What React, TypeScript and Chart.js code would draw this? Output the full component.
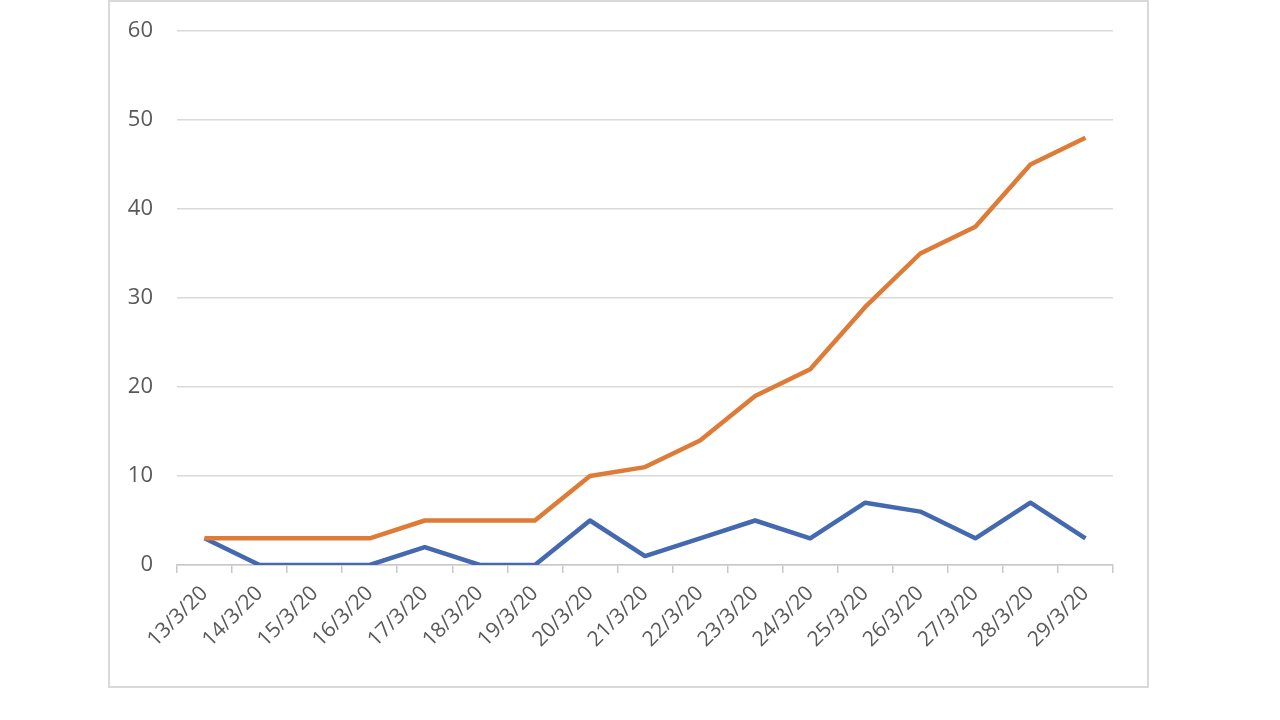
import React, { useEffect, useRef } from "react";
import { Chart, registerables } from "chart.js";

Chart.register(...registerables);

const categories = [
  "13/3/20", "14/3/20", "15/3/20", "16/3/20", "17/3/20", "18/3/20", "19/3/20",
  "20/3/20", "21/3/20", "22/3/20", "23/3/20", "24/3/20", "25/3/20", "26/3/20",
  "27/3/20", "28/3/20", "29/3/20",
];
const orangeSeries = [3, 3, 3, 3, 5, 5, 5, 10, 11, 14, 19, 22, 29, 35, 38, 45, 48];
const blueSeries = [3, 0, 0, 0, 2, 0, 0, 5, 1, 3, 5, 3, 7, 6, 3, 7, 3];
const yMin = 0;
const yMax = 60;
const yStep = 10;

export default function App() {
  const canvasRef = useRef<HTMLCanvasElement | null>(null);

  useEffect(() => {
    const canvas = canvasRef.current;
    if (!canvas) return;
    const chart = new Chart(canvas, {
      type: "line",
      data: {
        labels: categories,
        datasets: [
          {
            label: "Series 2",
            data: orangeSeries,
            borderColor: "#DE7C37",
            backgroundColor: "#DE7C37",
            borderWidth: 4.5,
            pointRadius: 0,
            tension: 0,
            borderJoinStyle: "round",
          },
          {
            label: "Series 1",
            data: blueSeries,
            borderColor: "#4469B0",
            backgroundColor: "#4469B0",
            borderWidth: 4.5,
            pointRadius: 0,
            tension: 0,
            borderJoinStyle: "round",
          },
        ],
      },
      options: {
        responsive: false,
        animation: false,
        layout: { padding: { left: 0, right: 167, top: 31, bottom: 0 } },
        plugins: {
          legend: { display: false },
          tooltip: { enabled: false },
        },
        scales: {
          x: {
            offset: true,
            grid: {
              offset: true,
              drawOnChartArea: false,
              drawTicks: true,
              tickLength: 8,
              color: "#c8c8c8",
              lineWidth: 1.5,
            },
            border: { display: true, color: "#c8c8c8", width: 1.5 },
            ticks: {
              minRotation: 45,
              maxRotation: 45,
              autoSkip: false,
              padding: 8,
              color: "#595959",
              font: { family: "'Open Sans', sans-serif", size: 21 },
            },
            afterFit: (scale: any) => {
              scale.height = 155;
              scale.paddingLeft = 0;
              scale.paddingRight = 0;
            },
          },
          y: {
            min: yMin,
            max: yMax,
            ticks: {
              stepSize: yStep,
              padding: 24,
              color: "#595959",
              font: { family: "'Open Sans', sans-serif", size: 22 },
            },
            grid: {
              drawTicks: false,
              color: "#d9d9d9",
              lineWidth: 1.5,
            },
            border: { display: false },
            afterFit: (scale: any) => {
              scale.width = 177;
              scale.paddingTop = 0;
              scale.paddingBottom = 0;
            },
          },
        },
      },
    });
    return () => chart.destroy();
  }, []);

  return (
    <div style={{ position: "absolute", left: 0, top: 0, width: 1280, height: 720, background: "#fff" }}>
      <div
        style={{
          position: "absolute",
          left: 108,
          top: 0,
          width: 1037,
          height: 684,
          border: "2px solid #d9d9d9",
          boxSizing: "content-box",
        }}
      />
      <canvas
        ref={canvasRef}
        width={1280}
        height={720}
        style={{ position: "absolute", left: 0, top: 0, width: 1280, height: 720 }}
      />
    </div>
  );
}
